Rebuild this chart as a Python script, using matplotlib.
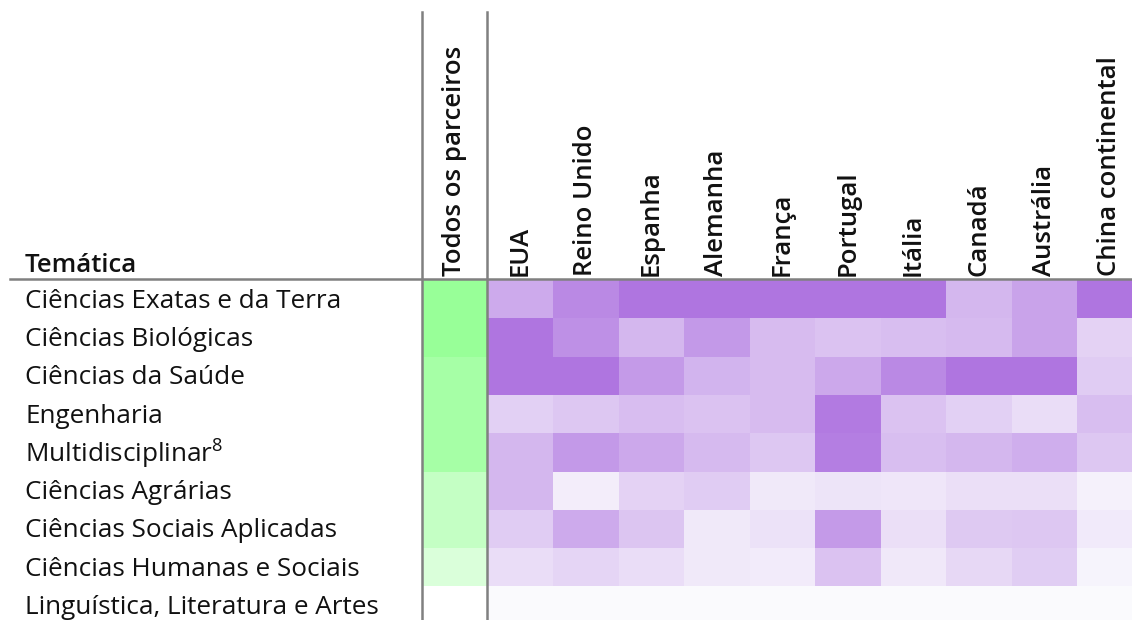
import matplotlib
matplotlib.use("Agg")
import matplotlib.pyplot as plt
import numpy as np
from matplotlib.colors import LinearSegmentedColormap

FONT = 'Open Sans'
plt.rcParams['font.family'] = [FONT, 'DejaVu Sans']
plt.rcParams['mathtext.fontset'] = 'custom'
plt.rcParams['mathtext.rm'] = FONT
plt.rcParams['mathtext.it'] = FONT

row_labels = ["Ciências Exatas e da Terra", "Ciências Biológicas", "Ciências da Saúde",
              "Engenharia", "Multidisciplinar$^{8}$", "Ciências Agrárias",
              "Ciências Sociais Aplicadas", "Ciências Humanas e Sociais",
              "Linguística, Literatura e Artes"]
first_col_label = "Todos os parceiros"
col_labels = ["EUA", "Reino Unido", "Espanha", "Alemanha", "França", "Portugal",
              "Itália", "Canadá", "Austrália", "China continental"]

todos = [1.0, 1.0, 0.86, 0.86, 0.86, 0.57, 0.57, 0.36, 0.0]

exatas      = [0.60, 0.85, 1.00, 1.00, 1.00, 1.00, 1.00, 0.50, 0.65, 1.00]
biologicas  = [1.00, 0.80, 0.50, 0.73, 0.47, 0.42, 0.45, 0.48, 0.65, 0.30]
saude       = [1.00, 1.00, 0.72, 0.53, 0.47, 0.62, 0.85, 1.00, 1.00, 0.35]
engenharia  = [0.32, 0.38, 0.46, 0.42, 0.47, 0.96, 0.42, 0.32, 0.22, 0.45]
multi       = [0.50, 0.73, 0.62, 0.48, 0.38, 0.93, 0.45, 0.50, 0.57, 0.38]
agrarias    = [0.50, 0.10, 0.30, 0.35, 0.13, 0.17, 0.15, 0.20, 0.20, 0.07]
sociais_apl = [0.35, 0.60, 0.40, 0.13, 0.18, 0.72, 0.20, 0.37, 0.38, 0.12]
humanas     = [0.22, 0.28, 0.22, 0.13, 0.11, 0.42, 0.14, 0.26, 0.34, 0.05]
linguistica = [0.0, 0.0, 0.0, 0.0, 0.0, 0.0, 0.0, 0.0, 0.0, 0.0]

values = np.array([exatas, biologicas, saude, engenharia, multi, agrarias,
                   sociais_apl, humanas, linguistica])

purple = LinearSegmentedColormap.from_list("p", ["#FAFAFD", "#AF75E0"])
green = LinearSegmentedColormap.from_list("g", ["#FFFFFF", "#98FF98"])

W, H = 1132, 620
fig = plt.figure(figsize=(W / 100, H / 100), dpi=100)

ncol = 1 + len(col_labels)
nrow = len(row_labels)
x0, y_top, cw, rh = 422, 280, 65.5, 38.3
ax = fig.add_axes([x0 / W, (H - y_top - nrow * rh) / H, ncol * cw / W, nrow * rh / H])
ax.pcolormesh(np.arange(0, 2), np.arange(nrow + 1), np.array(todos)[:, None],
              cmap=green, vmin=0, vmax=1)
ax.pcolormesh(np.arange(1, ncol + 1), np.arange(nrow + 1), values,
              cmap=purple, vmin=0, vmax=1)
ax.set_xlim(0, ncol)
ax.set_ylim(nrow, 0)
ax.axis("off")

# row labels
for i, lab in enumerate(row_labels):
    fig.text(25 / W, (H - (y_top + (i + 0.5) * rh) - 2) / H, lab, ha="left", va="center",
             fontsize=18.8, color="#111111")

# header
fig.text(25 / W, (H - 272) / H, "Temática", ha="left", va="baseline",
         fontsize=18.5, fontweight="semibold", color="#111111")
hdrs = [first_col_label] + col_labels
for j, lab in enumerate(hdrs):
    xc = x0 + (j + 0.5) * cw
    fig.text(xc / W, (H - 276) / H, lab, rotation=90, ha="center", va="bottom",
             fontsize=18.5, fontweight="semibold", color="#111111")

# lines
lc = "#808080"
fig.add_artist(plt.Line2D([10 / W, 1], [(H - 279) / H] * 2, color=lc, lw=1.8,
                          transform=fig.transFigure))
for xv in (422, 487):
    fig.add_artist(plt.Line2D([xv / W] * 2, [(H - 12) / H, 0], color=lc, lw=1.8,
                              transform=fig.transFigure))

fig.savefig("out.png", dpi=100)
